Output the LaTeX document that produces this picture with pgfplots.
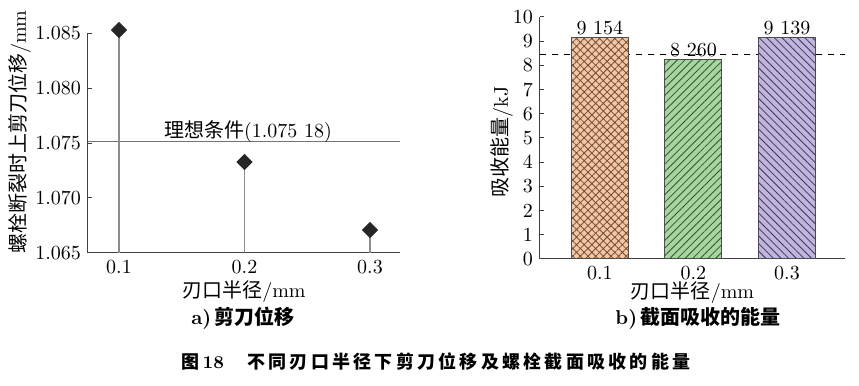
\documentclass[border=0pt]{standalone}
\usepackage{pgfplots}
\pgfplotsset{compat=1.18}
\usepackage{fontspec}
\usetikzlibrary{patterns.meta}
\newfontfamily\cjk{Noto Sans CJK SC}
\definecolor{orfill}{RGB}{246,197,162}
\definecolor{orline}{RGB}{110,78,58}
\definecolor{grfill}{RGB}{168,212,160}
\definecolor{grline}{RGB}{40,90,45}
\definecolor{pufill}{RGB}{192,182,220}
\definecolor{puline}{RGB}{60,52,100}
\begin{document}
\begin{tikzpicture}
\path[use as bounding box] (0,0) rectangle (429.5pt,193pt);
% ---------- left: shear displacement ----------
\begin{axis}[
  at={(44pt,66.5pt)}, anchor=south west,
  scale only axis, width=156pt, height=110pt,
  xmin=0.0753, xmax=0.3239, ymin=1.065, ymax=1.085,
  axis x line*=bottom, axis y line*=left,
  axis line style={black!75, line width=0.5pt},
  xtick={0.1,0.2,0.3}, xticklabels={0.1,0.2,0.3},
  ytick={1.065,1.070,1.075,1.080,1.085},
  yticklabel style={/pgf/number format/fixed,/pgf/number format/fixed zerofill,/pgf/number format/precision=3},
  x tick style={draw=none},
  y tick style={black!75, line width=0.5pt},
  tick align=inside, major tick length=2pt,
  clip=false,
  xlabel={\cjk 刃口半径\rmfamily/mm},
  ylabel={\cjk 螺栓断裂时上剪刀位移\rmfamily/mm},
  every axis x label/.style={at={(axis description cs:0.5,0)}, anchor=center, yshift=-19.5pt},
  every axis y label/.style={at={(axis description cs:-0.218,0.55)}, anchor=center, rotate=90},
]
\addplot[black!55, line width=0.5pt] coordinates {(0.0753,1.07518) (0.3239,1.07518)};
\addplot[draw=none, mark=square*, mark size=2.65pt,
  mark options={rotate=45, fill=black!85, draw=black!85},
  error bars/.cd, y dir=minus, y explicit, error mark=none,
  error bar style={black!45, line width=0.7pt}]
  coordinates {(0.1,1.08527) -= (0,0.02027) (0.2,1.07327) -= (0,0.00827) (0.3,1.06709) -= (0,0.00209)};
\node[anchor=center] at (axis cs:0.2028,1.07600) {\cjk 理想条件\rmfamily(1.075 18)};
\end{axis}
% ---------- right: absorbed energy ----------
\begin{axis}[
  at={(270pt,63.5pt)}, anchor=south west,
  scale only axis, width=152.5pt, height=121pt,
  xmin=-0.64, xmax=2.62, ymin=0, ymax=10,
  axis x line*=bottom, axis y line*=left,
  axis line style={black!75, line width=0.5pt},
  xtick={0,1,2}, xticklabels={0.1,0.2,0.3},
  ytick={0,1,...,10},
  x tick style={draw=none},
  y tick style={black!75, line width=0.5pt},
  tick align=inside, major tick length=2pt,
  xlabel={\cjk 刃口半径\rmfamily/mm},
  ylabel={\cjk 吸收能量\rmfamily/kJ},
  every axis x label/.style={at={(axis description cs:0.5,0)}, anchor=center, yshift=-17pt},
  every axis y label/.style={at={(axis description cs:-0.1246,0.483)}, anchor=center, rotate=90},
  point meta=explicit symbolic,
  nodes near coords, every node near coord/.append style={anchor=south, inner sep=1pt, black},
]
\addplot[black, dashed, line width=0.5pt, nodes near coords={}] coordinates {(-0.64,8.43) (2.62,8.43)};
\addplot[ybar, bar width=28.5pt, bar shift=0pt, draw=black!70, line width=0.5pt, fill=orfill,
  postaction={pattern={Hatch[angle=45,distance=2.7pt,line width=0.4pt]}, pattern color=orline}]
  coordinates {(0,9.154) [9 154]};
\addplot[ybar, bar width=28.5pt, bar shift=0pt, draw=black!70, line width=0.5pt, fill=grfill,
  postaction={pattern={Lines[angle=45,distance=2.7pt,line width=0.4pt]}, pattern color=grline}]
  coordinates {(1,8.260) [8 260]};
\addplot[ybar, bar width=28.5pt, bar shift=0pt, draw=black!70, line width=0.5pt, fill=pufill,
  postaction={pattern={Lines[angle=-45,distance=2.7pt,line width=0.4pt]}, pattern color=puline}]
  coordinates {(2,9.139) [9 139]};
\end{axis}
% ---------- captions ----------
\node[anchor=center] at (121.5pt,34pt) {\bfseries a)\,{\cjk\bfseries 剪刀位移}};
\node[anchor=center] at (349pt,34pt) {\bfseries b)\,{\cjk\bfseries 截面吸收的能量}};
\node[anchor=center] at (218pt,12pt) {\fontsize{9pt}{10pt}\selectfont{\cjk\bfseries 图}\,\bfseries 18\hspace{1.3em}{\cjk\bfseries\addfontfeature{LetterSpace=18}不同刃口半径下剪刀位移及螺栓截面吸收的能量}};
\end{tikzpicture}
\end{document}
